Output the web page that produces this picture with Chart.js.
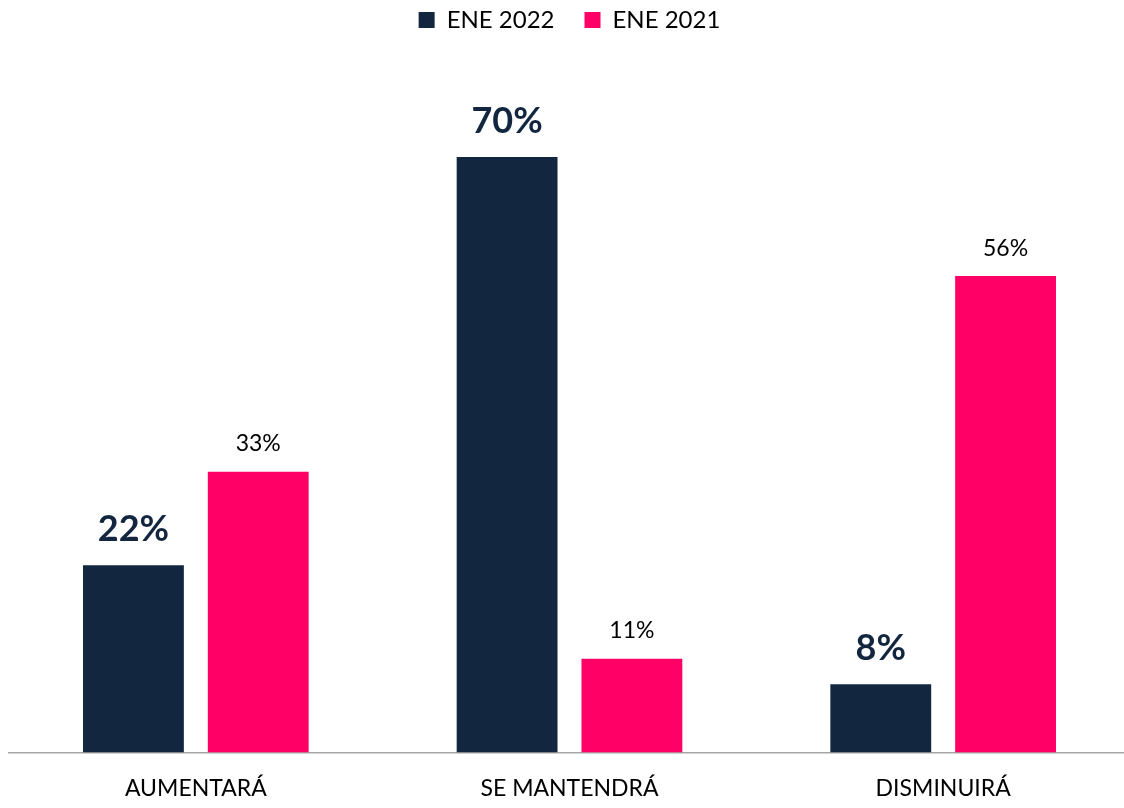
<!DOCTYPE html>
<html>
<head>
<meta charset="utf-8">
<script src="https://cdn.jsdelivr.net/npm/chart.js@4"></script>
<style>
  html, body { margin: 0; padding: 0; background: #fff; overflow: hidden; }
  #wrap { width: 1130px; height: 808px; position: relative; }
</style>
</head>
<body>
<div id="wrap"><canvas id="chart"></canvas></div>
<script>
const categorias = ['AUMENTARÁ', 'SE MANTENDRÁ', 'DISMINUIRÁ'];
const ene2022 = [22, 70, 8];
const ene2021 = [33, 11, 56];
const series = ['ENE 2022', 'ENE 2021'];

const FONT = "Lato, 'Noto Sans', 'DejaVu Sans', sans-serif";

// etiquetas de valor sobre cada barra
const etiquetas = {
    id: 'etiquetas',
    afterDatasetsDraw(chart) {
        const ctx = chart.ctx;
        chart.data.datasets.forEach(function (ds, i) {
            const meta = chart.getDatasetMeta(i);
            meta.data.forEach(function (bar, j) {
                ctx.save();
                ctx.textAlign = 'center';
                ctx.textBaseline = 'middle';
                if (i === 0) {
                    ctx.font = 'bold 36px ' + FONT;
                    ctx.fillStyle = '#13263F';
                    ctx.fillText(ds.data[j] + '%', bar.x, bar.y - 36);
                } else {
                    ctx.font = '23px ' + FONT;
                    ctx.fillStyle = '#000';
                    ctx.fillText(ds.data[j] + '%', bar.x, bar.y - 28);
                }
                ctx.restore();
            });
        });
    }
};

// espacio extra bajo la leyenda
const espacioLeyenda = {
    id: 'espacioLeyenda',
    beforeInit(chart) {
        const fitOrig = chart.legend.fit;
        chart.legend.fit = function () {
            fitOrig.call(this);
            this.height += 30;
        };
    }
};

new Chart(document.getElementById('chart'), {
    type: 'bar',
    data: {
        labels: categorias,
        datasets: [
            { label: series[0], data: ene2022, backgroundColor: '#13263F', categoryPercentage: 0.668, barPercentage: 0.808 },
            { label: series[1], data: ene2021, backgroundColor: '#FF0066', categoryPercentage: 0.668, barPercentage: 0.808 }
        ]
    },
    options: {
        responsive: true,
        maintainAspectRatio: false,
        animation: false,
        layout: { padding: { left: 9, right: 0, top: -22, bottom: -16 } },
        scales: {
            x: {
                grid: { display: false, drawTicks: false },
                border: { display: true, color: '#A6A6A6', width: 1.5 },
                ticks: { color: '#000', font: { family: FONT, size: 23 }, padding: 22 }
            },
            y: {
                display: false,
                min: 0,
                max: 80
            }
        },
        plugins: {
            legend: {
                position: 'top',
                labels: {
                    color: '#000',
                    font: { family: FONT, size: 24 },
                    boxWidth: 16,
                    boxHeight: 16,
                    padding: 30,
                    useBorderRadius: false
                }
            },
            tooltip: { enabled: false }
        }
    },
    plugins: [etiquetas, espacioLeyenda]
});
</script>
</body>
</html>
